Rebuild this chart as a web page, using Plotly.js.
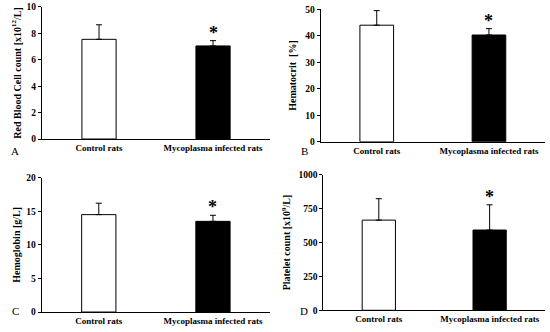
<!DOCTYPE html>
<html><head><meta charset="utf-8">
<script src="https://cdn.plot.ly/plotly-3.0.1.min.js"></script>
<style>body{margin:0;background:#fff}#c{width:550px;height:332px}</style>
</head><body><div id="c"></div>
<script>
const categories = ["Control rats", "Mycoplasma infected rats"];
const rbcMean = [7.55, 7.05];
const rbcSD = [1.1, 0.4];
const hctMean = [44.0, 40.3];
const hctSD = [5.5, 2.4];
const hgbMean = [14.5, 13.5];
const hgbSD = [1.7, 0.9];
const pltMean = [665, 592];
const pltSD = [158, 186];
const significant = [false, true];
const yTitles = ["Red Blood Cell count [x10<sup>12</sup>/L]", "Hematocrit  [%]", "Hemoglobin [g/L]", "Platelet count [x10<sup>9</sup>/L]"];
const panelLetters = ["A", "B", "C", "D"];
const yMax = [10, 50, 20, 1000];
const yDtick = [2, 10, 5, 250];

const means = [rbcMean, hctMean, hgbMean, pltMean];
const sds = [rbcSD, hctSD, hgbSD, pltSD];
const font = "Liberation Serif, Times New Roman, serif";

const xDomains = [[0.0764, 0.491], [0.583, 0.991], [0.0758, 0.491], [0.588, 0.991]];
const yDomains = [[0.5813, 0.979], [0.573, 0.972], [0.0602, 0.4648], [0.0654, 0.4738]];
const titleStandoff = [3, 6, 3, 5];

const data = [];
const layout = {
  width: 550, height: 332,
  margin: {l: 0, r: 0, t: 0, b: 0},
  paper_bgcolor: "#fff", plot_bgcolor: "#fff",
  showlegend: false,
  annotations: [],
  font: {family: font, color: "#000"}
};

for (let i = 0; i < 4; i++) {
  const n = i === 0 ? "" : String(i + 1);
  data.push({
    type: "bar",
    x: categories,
    y: means[i],
    xaxis: "x" + n, yaxis: "y" + n,
    width: 0.3,
    marker: {color: ["#fff", "#000"], line: {color: "#000", width: 1}},
    error_y: {type: "data", symmetric: false, array: sds[i], arrayminus: [0, 0], color: "#000", thickness: 1, width: 3}
  });
  layout["xaxis" + n] = {
    domain: xDomains[i], anchor: "y" + n,
    type: "category", range: [-0.5, 1.5],
    showline: true, linecolor: "#000", linewidth: 1,
    ticks: "", showgrid: false, zeroline: false,
    tickfont: {family: font, size: 9, color: "#000", weight: "bold"},
    automargin: false, fixedrange: true
  };
  layout["yaxis" + n] = {
    domain: yDomains[i], anchor: "x" + n,
    range: [0, yMax[i]], dtick: yDtick[i], tick0: 0,
    showline: true, linecolor: "#000", linewidth: 1,
    ticks: "outside", ticklen: 3, tickcolor: "#000",
    showgrid: false, zeroline: false,
    tickfont: {family: font, size: 9.5, color: "#000", weight: "bold"},
    title: {text: yTitles[i], font: {family: font, size: 10, color: "#000", weight: "bold"}, standoff: titleStandoff[i]},
    automargin: false, fixedrange: true
  };
  for (let j = 0; j < categories.length; j++) {
    if (significant[j]) {
      layout.annotations.push({
        xref: "x" + n, yref: "y" + n,
        x: categories[j], y: means[i][j] + sds[i][j],
        text: "*", showarrow: false, yanchor: "bottom", yshift: -4,
        font: {family: font, size: 18, color: "#000", weight: "bold"}
      });
    }
  }
  const lx = (i % 2 === 0) ? 15 / 550 : 304 / 550;
  const ly = (i < 2) ? 1 - 151 / 332 : 1 - 311 / 332;
  layout.annotations.push({
    xref: "paper", yref: "paper", x: lx, y: ly,
    text: panelLetters[i], showarrow: false, xanchor: "center", yanchor: "middle",
    font: {family: font, size: 11, color: "#000"}
  });
}

Plotly.newPlot("c", data, layout, {staticPlot: true, displayModeBar: false});
</script>
</body></html>
